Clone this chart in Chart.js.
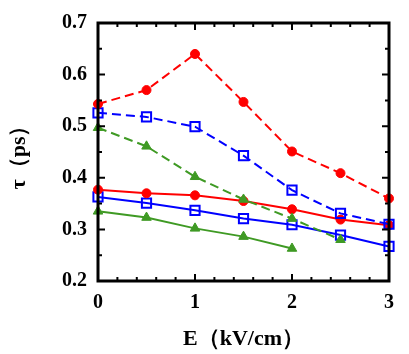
<!DOCTYPE html>
<html><head><meta charset="utf-8">
<script src="https://cdn.jsdelivr.net/npm/chart.js@4/dist/chart.umd.min.js"></script>
<style>html,body{margin:0;padding:0;background:#fff}#wrap{width:409px;height:354px}</style>
</head><body><div id="wrap"><canvas id="c" width="409" height="354"></canvas></div>
<script>
const fieldE = [0, 0.5, 1, 1.5, 2, 2.5, 3];
const redDashed   = [0.543, 0.570, 0.640, 0.547, 0.451, 0.409, 0.360];
const blueDashed  = [0.526, 0.518, 0.499, 0.443, 0.376, 0.331, 0.310];
const greenDashed = [0.497, 0.461, 0.402, 0.358, 0.321, 0.280];
const redSolid    = [0.377, 0.370, 0.366, 0.355, 0.339, 0.319, 0.308];
const blueSolid   = [0.363, 0.351, 0.337, 0.321, 0.309, 0.289, 0.267];
const greenSolid  = [0.335, 0.323, 0.302, 0.286, 0.263];
const xTicks = [0, 1, 2, 3];
const yTicks = [0.2, 0.3, 0.4, 0.5, 0.6, 0.7];

const RED = '#ff0000', BLUE = '#0000ff', GREEN = '#3f9a24';
function pts(vals){ return vals.map((v,i)=>({x: fieldE[i], y: v})); }
function ds(vals, color, style, dashed){
  const open = style === 'rect';
  const r = style === 'triangle' ? 5.5 : (style === 'rect' ? 6.5 : 4.5);
  return {
    data: pts(vals), borderColor: color, borderWidth: 2,
    borderDash: dashed ? [9, 5] : [],
    pointStyle: style, pointRadius: r,
    pointBackgroundColor: open ? 'rgba(0,0,0,0)' : color,
    pointBorderColor: color, pointBorderWidth: open ? 2 : 1,
    tension: 0, clip: false, fill: false
  };
}

const frame = {
  id: 'frame',
  afterDatasetsDraw(chart){
    const {ctx, chartArea: a, scales: {x, y}} = chart;
    ctx.save();
    ctx.strokeStyle = '#000';
    ctx.lineWidth = 2;
    const major = 7, minor = 4;
    for (let v = 0; v <= 3.0001; v += 0.2) {
      const px = x.getPixelForValue(v);
      const isMaj = Math.abs(v - Math.round(v)) < 1e-6;
      const L = isMaj ? major : minor;
      ctx.beginPath();
      ctx.moveTo(px, a.bottom); ctx.lineTo(px, a.bottom - L);
      ctx.moveTo(px, a.top); ctx.lineTo(px, a.top + L);
      ctx.stroke();
    }
    for (let v = 0.2; v <= 0.7001; v += 0.05) {
      const py = y.getPixelForValue(v);
      const isMaj = Math.abs(v*10 - Math.round(v*10)) < 1e-6;
      const L = isMaj ? major : minor;
      ctx.beginPath();
      ctx.moveTo(a.left, py); ctx.lineTo(a.left + L, py);
      ctx.moveTo(a.right, py); ctx.lineTo(a.right - L, py);
      ctx.stroke();
    }
    ctx.lineWidth = 3;
    ctx.strokeRect(a.left, a.top, a.right - a.left, a.bottom - a.top);
    ctx.restore();
  }
};

const tickFont = { family: 'Liberation Serif', size: 20, weight: 'bold' };
const titleFont = { family: 'Liberation Serif', size: 22, weight: 'bold' };

new Chart(document.getElementById('c'), {
  type: 'line',
  data: { datasets: [
    ds(redDashed, RED, 'circle', true),
    ds(blueDashed, BLUE, 'rect', true),
    ds(greenDashed, GREEN, 'triangle', true),
    ds(redSolid, RED, 'circle', false),
    ds(blueSolid, BLUE, 'rect', false),
    ds(greenSolid, GREEN, 'triangle', false)
  ]},
  options: {
    responsive: false, animation: false, devicePixelRatio: 1,
    layout: { padding: { left: 0, right: 20, top: 20, bottom: 0 } },
    plugins: { legend: { display: false }, tooltip: { enabled: false } },
    scales: {
      x: {
        type: 'linear', min: 0, max: 3,
        afterBuildTicks(s){ s.ticks = xTicks.map(v=>({value:v})); },
        afterFit(s){ s.height = 354 - 281; },
        grid: { display: false, drawTicks: false }, border: { display: false },
        ticks: { padding: 10, color: '#000', font: tickFont, callback: v => String(v) },
        title: { display: true, text: 'E（kV/cm）', color: '#000', padding: { top: 0, bottom: 1 }, font: titleFont }
      },
      y: {
        type: 'linear', min: 0.2, max: 0.7,
        afterBuildTicks(s){ s.ticks = yTicks.map(v=>({value:v})); },
        afterFit(s){ s.width = 98; },
        grid: { display: false, drawTicks: false }, border: { display: false },
        ticks: { padding: 11, color: '#000', font: tickFont, callback: v => v.toFixed(1) },
        title: { display: true, text: 'τ（ps）', color: '#000', padding: { top: 6, bottom: 0 }, font: titleFont }
      }
    }
  },
  plugins: [frame]
});
</script></body></html>
